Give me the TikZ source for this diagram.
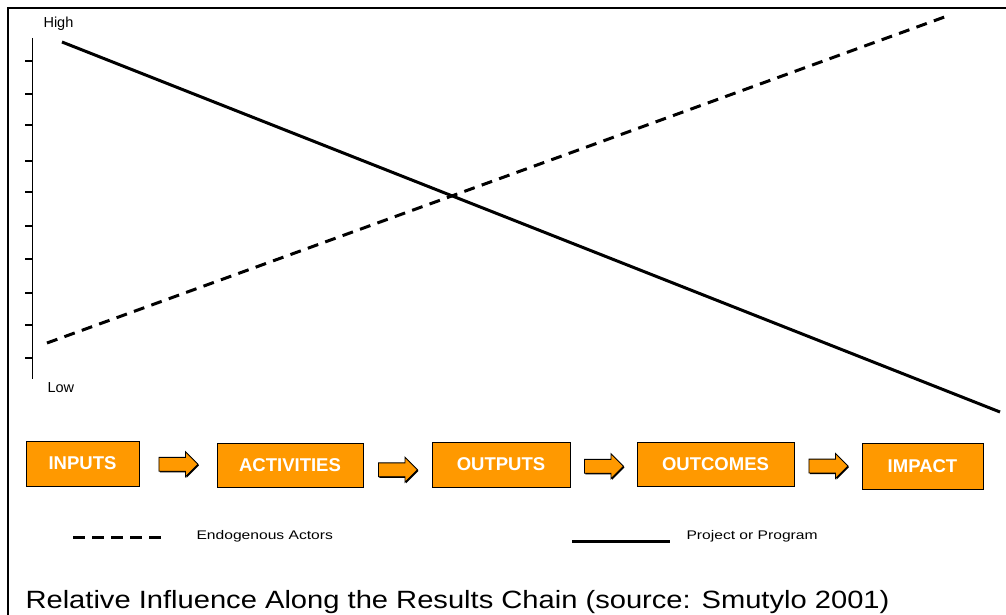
\documentclass[tikz,border=0pt]{standalone}
\usepackage{fontspec}
\setmainfont{Liberation Sans}
\usepackage{graphicx}
\usetikzlibrary{calc,shapes.arrows,shadows}
\definecolor{chainorange}{RGB}{255,153,0}

\begin{document}
\begin{tikzpicture}[x=1pt,y=-1pt,
  boxshadow/.style={drop shadow={shadow xshift=1pt, shadow yshift=-1.2pt, fill=black, opacity=1}},
  chainbox/.style={draw=black, line width=0.9pt, fill=chainorange, text=white, inner sep=0pt, font=\bfseries\fontsize{18.5}{20}\selectfont, boxshadow},
  chainarrow/.style={single arrow, draw=black, line width=0.9pt, fill=chainorange, inner xsep=0pt, inner ysep=6.5pt, minimum height=39pt, single arrow head extend=5.5pt, xshift=-3pt, boxshadow},
  influence/.style={line width=3pt},
  axisline/.style={line width=1.8pt},
  scalelabel/.style={anchor=base west, font=\fontsize{14.5}{16}\selectfont},
  legendtext/.style={anchor=base west, font=\fontsize{12.5}{14}\selectfont}]
\useasboundingbox (0,0) rectangle (1006,615);
\draw[line width=2pt] (1006,8) -- (8,8) -- (8,615);
\draw[axisline] (32.5,38) -- (32.5,379);
\foreach \ty in {61,94,125,161,192,226,259,293,325,358}
  \draw[axisline] (25,\ty) -- (32.5,\ty);
\node[scalelabel] (high) at (40,28) {High};
\node[scalelabel] (low) at (44,392) {Low};
\draw[influence] (62,42) -- (1000,412);
\draw[influence, dash pattern=on 11pt off 7.5pt] (47,343) -- (950,15);
\node[chainbox, minimum width=113pt, minimum height=45pt] (inputs) at (82.5,463.5) {INPUTS};
\node[chainbox, minimum width=146pt, minimum height=44pt] (activities) at (290,465) {ACTIVITIES};
\node[chainbox, minimum width=138pt, minimum height=45pt] (outputs) at (501,464.5) {OUTPUTS};
\node[chainbox, minimum width=157pt, minimum height=44pt] (outcomes) at (715.5,464) {OUTCOMES};
\node[chainbox, minimum width=121pt, minimum height=46pt] (impact) at (922.5,466) {IMPACT};
\node[chainarrow] (arrowA) at ($(inputs.east)!0.5!(activities.west)$) {};
\node[chainarrow, yshift=-5pt] (arrowB) at ($(activities.east)!0.5!(outputs.west)$) {};
\node[chainarrow, yshift=-2pt] (arrowC) at ($(outputs.east)!0.5!(outcomes.west)$) {};
\node[chainarrow, yshift=-1pt] (arrowD) at ($(outcomes.east)!0.5!(impact.west)$) {};
\draw[influence, dash pattern=on 12pt off 7pt] (73,537) -- (162,537);
\node[legendtext] (endogenous) at (193,539) {\scalebox{1.25}[1]{Endogenous Actors}};
\draw[influence] (572,541) -- (670,541);
\node[legendtext] (project) at (683,539) {\scalebox{1.25}[1]{Project or Program}};
\node[anchor=base west, font=\fontsize{25}{30}\selectfont] (caption) at (22,608) {\scalebox{1.165}[1]{Relative Influence Along the Results Chain (source: Smutylo 2001)}};
\end{tikzpicture}
\end{document}
